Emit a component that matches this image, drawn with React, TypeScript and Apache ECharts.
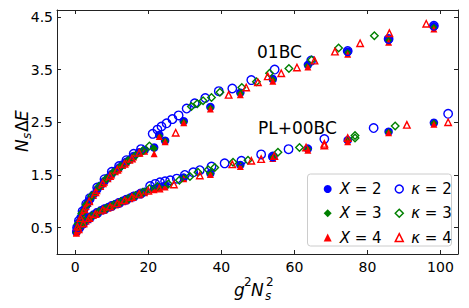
import React, { useEffect, useRef } from "react";
import * as echarts from "echarts";

// ---- data ----
const xTicks = [0, 20, 40, 60, 80, 100];
const yTicks = [0.5, 1.5, 2.5, 3.5, 4.5];

// filled markers (X = 2, 3, 4) share the same g^2 Ns^2 values
const xFilled = [0.3, 0.6, 1, 1.5, 2, 2.5, 3, 3.5, 4, 5, 6, 7, 8, 9, 10, 11, 12, 13, 14, 15, 16, 17.5, 19, 21.6, 23, 24.6, 29.7, 37, 45.2, 54.1, 63.7, 74.6, 85.8, 98.2];
const x2Upper = [0.42, 0.5, 0.6, 0.7, 0.78, 0.85, 0.92, 0.98, 1.03, 1.13, 1.22, 1.3, 1.38, 1.45, 1.52, 1.58, 1.64, 1.7, 1.75, 1.8, 1.86, 1.93, 1.97, 2.02, 2.26, 2.15, 2.52, 2.79, 3.06, 3.32, 3.59, 3.84, 4.07, 4.32];
const x3Upper = [0.41, 0.49, 0.59, 0.69, 0.77, 0.84, 0.91, 0.97, 1.02, 1.12, 1.21, 1.29, 1.37, 1.44, 1.51, 1.57, 1.63, 1.69, 1.74, 1.79, 1.85, 1.92, 1.96, 2.0, 2.24, 2.14, 2.5, 2.77, 3.04, 3.3, 3.57, 3.82, 4.05, 4.3];
const x4Upper = [0.4, 0.48, 0.58, 0.68, 0.76, 0.83, 0.9, 0.96, 1.01, 1.11, 1.2, 1.28, 1.36, 1.43, 1.5, 1.56, 1.62, 1.68, 1.73, 1.78, 1.84, 1.91, 1.95, 1.9, 2.23, 2.13, 2.49, 2.75, 3.02, 3.28, 3.55, 3.79, 4.02, 4.27];
const x2Lower = [0.42, 0.46, 0.5, 0.54, 0.58, 0.61, 0.64, 0.67, 0.7, 0.75, 0.79, 0.83, 0.86, 0.89, 0.92, 0.95, 0.98, 1.01, 1.04, 1.07, 1.1, 1.14, 1.18, 1.24, 1.27, 1.3, 1.45, 1.53, 1.69, 1.84, 2.0, 2.16, 2.32, 2.49];
const x3Lower = [0.41, 0.45, 0.49, 0.53, 0.57, 0.6, 0.63, 0.66, 0.69, 0.74, 0.78, 0.82, 0.85, 0.88, 0.91, 0.94, 0.97, 1.0, 1.03, 1.06, 1.09, 1.13, 1.17, 1.23, 1.26, 1.29, 1.44, 1.52, 1.68, 1.83, 1.99, 2.15, 2.31, 2.48];
const x4Lower = [0.4, 0.44, 0.48, 0.52, 0.56, 0.59, 0.62, 0.65, 0.68, 0.73, 0.77, 0.81, 0.84, 0.87, 0.9, 0.93, 0.96, 0.99, 1.02, 1.05, 1.08, 1.12, 1.16, 1.22, 1.25, 1.27, 1.43, 1.51, 1.66, 1.81, 1.97, 2.13, 2.3, 2.46];

// open markers (kappa = 2, 3, 4)
const k2UpperX = [0.5, 1, 2, 3, 4, 6, 8, 10, 12, 14, 16, 18, 21.2, 22.5, 23.6, 25, 26.6, 28.3, 30.5, 32.7, 35.6, 39.3, 43.0, 48.2, 54.6, 64.6, 74.6, 85.8, 98.2];
const k2UpperY = [0.5, 0.63, 0.81, 0.95, 1.06, 1.26, 1.42, 1.56, 1.67, 1.78, 1.9, 1.99, 2.28, 2.36, 2.42, 2.48, 2.56, 2.63, 2.76, 2.86, 2.96, 3.09, 3.14, 3.3, 3.5, 3.67, 3.85, 4.08, 4.33];
const k2LowerX = [1, 2, 4, 6, 8, 10, 12, 14, 16, 18, 20.5, 21.9, 23.2, 24.6, 26, 27.8, 30, 32.3, 34.1, 37.3, 40.9, 45.5, 50.9, 54.1, 58.4, 68.2, 81.7, 102.1];
const k2LowerY = [0.49, 0.57, 0.69, 0.78, 0.85, 0.91, 0.97, 1.03, 1.09, 1.15, 1.29, 1.33, 1.36, 1.38, 1.4, 1.43, 1.5, 1.55, 1.59, 1.66, 1.72, 1.77, 1.89, 1.85, 1.99, 2.18, 2.39, 2.66];

const k3UpperX = [0.8, 1.8, 3, 4.5, 6.5, 8.5, 10.5, 12.5, 14.5, 16.5, 18.5, 20.3, 31.8, 33.4, 35, 37.3, 39.6, 45.6, 49.6, 53.2, 58.5, 64.7, 72.1, 81.9];
const k3UpperY = [0.57, 0.77, 0.93, 1.1, 1.28, 1.43, 1.55, 1.66, 1.77, 1.87, 1.96, 2.05, 2.8, 2.85, 2.91, 2.97, 3.07, 3.16, 3.27, 3.43, 3.52, 3.68, 3.91, 4.14];
const k3LowerX = [1.2, 2.5, 4.5, 6.5, 8.5, 10.5, 12.5, 14.5, 16.5, 18.5, 20.3, 22.5, 25.5, 28.5, 31.4, 33.6, 36.4, 38.2, 43.2, 47.3, 55.5, 61.4, 76.6, 76.6, 87.6];
const k3LowerY = [0.52, 0.62, 0.72, 0.8, 0.87, 0.93, 0.99, 1.05, 1.11, 1.17, 1.24, 1.28, 1.33, 1.4, 1.47, 1.55, 1.6, 1.64, 1.74, 1.78, 1.93, 2.02, 2.25, 2.2, 2.43];

const k4UpperX = [0.6, 1.4, 2.5, 3.8, 5.5, 7.5, 9.5, 11.5, 13.5, 15.5, 17.5, 27.5, 42, 46.8, 50, 52.7, 56.4, 60.7, 65.5, 71.1, 78, 86, 96.1];
const k4UpperY = [0.52, 0.68, 0.85, 1.0, 1.17, 1.34, 1.48, 1.6, 1.71, 1.81, 1.92, 2.3, 3.02, 3.16, 3.26, 3.37, 3.43, 3.54, 3.67, 3.84, 4.0, 4.19, 4.37];
const k4LowerX = [0.9, 2.2, 3.8, 5.5, 7.5, 9.5, 11.5, 13.5, 15.5, 17.5, 20, 23, 27, 34.1, 43, 48.2, 50.9, 54.5, 63.2, 68.2, 68.2, 74.6, 90.8, 102.1];
const k4LowerY = [0.47, 0.58, 0.68, 0.76, 0.84, 0.9, 0.96, 1.02, 1.08, 1.14, 1.2, 1.24, 1.32, 1.49, 1.7, 1.77, 1.8, 1.86, 2.02, 2.09, 2.06, 2.2, 2.45, 2.5];

const seriesNames = ["X = 2", "X = 3", "X = 4", "κ = 2", "κ = 3", "κ = 4"];
const branchLabels = ["01BC", "PL+00BC"];

const BLUE = "#0000ff";
const GREEN = "#008000";
const RED = "#ff0000";
const FONT = "DejaVu Sans";

const zip = (xs: number[], ys: number[]) => xs.map((x, i) => [x, ys[i]]);

export default function App() {
  const ref = useRef<HTMLDivElement>(null);
  useEffect(() => {
    if (!ref.current) return;
    const chart = echarts.init(ref.current, null, { renderer: "svg" });

    const filled = (name: string, symbol: string, color: string, data: number[][], size: number) => ({
      name,
      type: "scatter",
      xAxisIndex: 0,
      yAxisIndex: 0,
      symbol,
      symbolSize: size,
      data,
      itemStyle: { color, opacity: 1 },
      emphasis: { disabled: true },
    });
    const open = (name: string, symbol: string, color: string, data: number[][], size: number) => ({
      name,
      type: "scatter",
      xAxisIndex: 0,
      yAxisIndex: 0,
      symbol,
      symbolSize: size,
      data,
      itemStyle: { color: "rgba(255,255,255,0)", borderColor: color, borderWidth: 1.4, opacity: 1 },
      emphasis: { disabled: true },
    });

    const legendText = {
      fontFamily: FONT,
      fontSize: 15,
      color: "#000",
      lineHeight: 16,
      rich: {
        i: { fontFamily: FONT, fontStyle: "italic", fontSize: 15, color: "#000", padding: [0, 0, 0, 3] },
        n: { fontFamily: FONT, fontSize: 15, color: "#000" },
      },
    };
    const fmt = (name: string) => `{i|${name.charAt(0)}}{n|${name.slice(1)}}`;

    const axisCommon = {
      type: "value",
      splitLine: { show: false },
      axisLine: { show: true, onZero: false, lineStyle: { color: "#222", width: 1 } },
    };

    chart.setOption({
      animation: false,
      grid: { left: 57, right: 11, top: 10, bottom: 54, containLabel: false },
      xAxis: [
        {
          ...axisCommon,
          position: "bottom",
          min: -5,
          max: 104.8,
          axisTick: { show: true, inside: true, length: 4, customValues: xTicks, lineStyle: { color: "#222" } },
          axisLabel: { show: true, customValues: xTicks, margin: 6, fontFamily: FONT, fontSize: 14, color: "#000" },
        },
        {
          ...axisCommon,
          position: "top",
          min: -5,
          max: 104.8,
          axisTick: { show: true, inside: true, length: 4, customValues: xTicks, lineStyle: { color: "#222" } },
          axisLabel: { show: false },
        },
      ],
      yAxis: [
        {
          ...axisCommon,
          position: "left",
          min: 0,
          max: 4.63,
          axisTick: { show: true, inside: true, length: 4, customValues: yTicks, lineStyle: { color: "#222" } },
          axisLabel: { show: true, customValues: yTicks, margin: 4, fontFamily: FONT, fontSize: 14, color: "#000", formatter: (v: number) => v.toFixed(1) },
        },
        {
          ...axisCommon,
          position: "right",
          min: 0,
          max: 4.63,
          axisTick: { show: true, inside: true, length: 4, customValues: yTicks, lineStyle: { color: "#222" } },
          axisLabel: { show: false },
        },
      ],
      legend: [
        {
          orient: "vertical",
          left: 318.7,
          top: 176,
          itemWidth: 8,
          itemHeight: 8,
          itemGap: 8.3,
          selectedMode: false,
          textStyle: legendText,
          formatter: fmt,
          data: [
            { name: seriesNames[0], icon: "circle", itemStyle: { color: BLUE } },
            { name: seriesNames[1], icon: "diamond", itemStyle: { color: GREEN } },
            { name: seriesNames[2], icon: "triangle", itemStyle: { color: RED } },
          ],
        },
        {
          orient: "vertical",
          left: 389.5,
          top: 176,
          itemWidth: 8,
          itemHeight: 8,
          itemGap: 8.3,
          selectedMode: false,
          textStyle: legendText,
          formatter: fmt,
          data: [
            { name: seriesNames[3], icon: "circle", itemStyle: { color: "#fff", borderColor: BLUE, borderWidth: 1.5 } },
            { name: seriesNames[4], icon: "diamond", itemStyle: { color: "#fff", borderColor: GREEN, borderWidth: 1.5 } },
            { name: seriesNames[5], icon: "triangle", itemStyle: { color: "#fff", borderColor: RED, borderWidth: 1.5 } },
          ],
        },
      ],
      graphic: [
        {
          type: "rect",
          z: 3,
          shape: { x: 307.5, y: 174, width: 144, height: 72, r: 3 },
          style: { fill: "rgba(255,255,255,0.8)", stroke: "#cccccc", lineWidth: 1 },
        },
        {
          type: "text",
          z: 5,
          x: 257,
          y: 52,
          style: { text: branchLabels[0], font: `17px "${FONT}"`, fill: "#000", verticalAlign: "middle" },
        },
        {
          type: "text",
          z: 5,
          x: 258,
          y: 128,
          style: { text: branchLabels[1], font: `17px "${FONT}"`, fill: "#000", verticalAlign: "middle" },
        },
        // x axis title  g^2 N_s^2
        {
          type: "group",
          z: 5,
          children: [
            { type: "text", x: 234, y: 290, style: { text: "g", font: `italic 17px "${FONT}"`, fill: "#000", verticalAlign: "middle" } },
            { type: "text", x: 244, y: 282, style: { text: "2", font: `12px "${FONT}"`, fill: "#000", verticalAlign: "middle" } },
            { type: "text", x: 251, y: 290, style: { text: "N", font: `italic 17px "${FONT}"`, fill: "#000", verticalAlign: "middle" } },
            { type: "text", x: 266, y: 282, style: { text: "2", font: `12px "${FONT}"`, fill: "#000", verticalAlign: "middle" } },
            { type: "text", x: 265, y: 296, style: { text: "s", font: `italic 12px "${FONT}"`, fill: "#000", verticalAlign: "middle" } },
          ],
        },
        // y axis title  N_s ΔE (rotated)
        {
          type: "group",
          z: 5,
          x: 22,
          y: 152,
          rotation: Math.PI / 2,
          children: [
            { type: "text", x: 0, y: 0, style: { text: "N", font: `italic 17px "${FONT}"`, fill: "#000", verticalAlign: "middle" } },
            { type: "text", x: 13, y: 5, style: { text: "s", font: `italic 12px "${FONT}"`, fill: "#000", verticalAlign: "middle" } },
            { type: "text", x: 20, y: 0, style: { text: "Δ", font: `17px "${FONT}"`, fill: "#000", verticalAlign: "middle" } },
            { type: "text", x: 31, y: 0, style: { text: "E", font: `italic 17px "${FONT}"`, fill: "#000", verticalAlign: "middle" } },
          ],
        },
      ],
      series: [
        filled(seriesNames[0], "circle", BLUE, [...zip(xFilled, x2Upper), ...zip(xFilled, x2Lower)], 8.5),
        filled(seriesNames[1], "diamond", GREEN, [...zip(xFilled, x3Upper), ...zip(xFilled, x3Lower)], 7.5),
        filled(seriesNames[2], "triangle", RED, [...zip(xFilled, x4Upper), ...zip(xFilled, x4Lower)], 7),
        open(seriesNames[3], "circle", BLUE, [...zip(k2UpperX, k2UpperY), ...zip(k2LowerX, k2LowerY)], 8.5),
        open(seriesNames[4], "diamond", GREEN, [...zip(k3UpperX, k3UpperY), ...zip(k3LowerX, k3LowerY)], 7.5),
        open(seriesNames[5], "triangle", RED, [...zip(k4UpperX, k4UpperY), ...zip(k4LowerX, k4LowerY)], 6.5),
      ],
    });
    return () => chart.dispose();
  }, []);
  return <div ref={ref} style={{ width: 469, height: 308, position: "absolute", left: 0, top: 0 }} />;
}
